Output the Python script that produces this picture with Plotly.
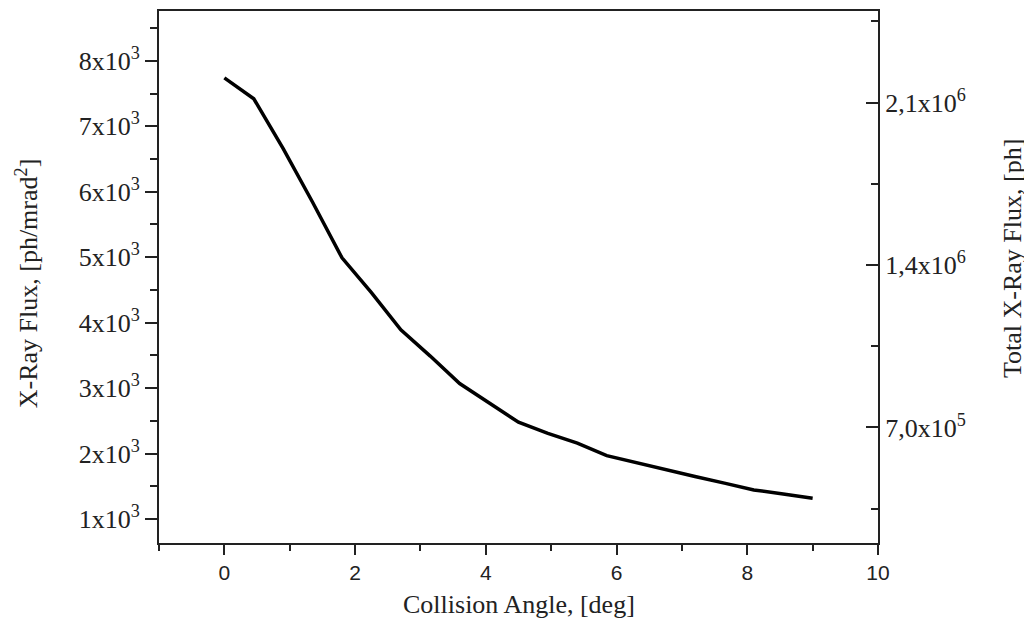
import plotly.graph_objects as go

# collision angle [deg] vs X-ray flux [ph/mrad^2]
angle = [0, 0.45, 0.9, 1.35, 1.8, 2.25, 2.7, 3.15, 3.6, 4.05, 4.5,
         4.95, 5.4, 5.85, 6.3, 6.75, 7.2, 7.65, 8.1, 8.55, 9.0]
flux = [7740, 7420, 6660, 5840, 4990, 4460, 3890, 3490, 3070, 2780, 2480,
        2310, 2160, 1970, 1860, 1755, 1650, 1550, 1445, 1385, 1320]

left_vals = [1000, 2000, 3000, 4000, 5000, 6000, 7000, 8000]
left_text = [f"{v // 1000}x10<sup>3</sup>" for v in left_vals]
left_minor = [1500, 2500, 3500, 4500, 5500, 6500, 7500, 8500]

right_vals = [7.0e5, 1.4e6, 2.1e6]
right_text = ["7,0x10<sup>5</sup>", "1,4x10<sup>6</sup>", "2,1x10<sup>6</sup>"]
right_minor = [3.5e5, 1.05e6, 1.75e6, 2.45e6]

serif = "Liberation Serif"
sans = "Liberation Sans"
ink = "#222"

fig = go.Figure()
fig.add_trace(go.Scatter(x=angle, y=flux, mode="lines",
                         line=dict(color="black", width=3.5), showlegend=False))
# empty trace so the right axis gets drawn
fig.add_trace(go.Scatter(x=[], y=[], yaxis="y2", showlegend=False))

# the page body adds 8px, so margins are shifted by that
fig.update_layout(
    width=1032, height=628,
    margin=dict(l=151, r=162, t=1, b=93),
    plot_bgcolor="white", paper_bgcolor="white",
    xaxis=dict(range=[-1, 10], tickvals=[0, 2, 4, 6, 8, 10],
               ticks="outside", ticklen=10, tickwidth=2, tickcolor=ink,
               minor=dict(tickvals=[-1, 1, 3, 5, 7, 9], ticks="outside",
                          ticklen=6, tickwidth=2, tickcolor=ink),
               showline=True, linecolor=ink, linewidth=2, mirror=True,
               showgrid=False, zeroline=False,
               tickfont=dict(family=sans, size=21, color=ink)),
    yaxis=dict(range=[635, 8761], tickvals=left_vals, ticktext=left_text,
               ticks="outside", ticklen=12, tickwidth=2, tickcolor=ink,
               minor=dict(tickvals=left_minor, ticks="outside",
                          ticklen=7, tickwidth=2, tickcolor=ink),
               showline=True, linecolor=ink, linewidth=2,
               showgrid=False, zeroline=False,
               tickfont=dict(family=serif, size=26, color=ink)),
    yaxis2=dict(range=[2.018e5, 2.495e6], overlaying="y", side="right",
                tickvals=right_vals, ticktext=right_text,
                ticks="inside", ticklen=12, tickwidth=2, tickcolor=ink,
                minor=dict(tickvals=right_minor, ticks="inside",
                           ticklen=7, tickwidth=2, tickcolor=ink),
                showline=True, linecolor=ink, linewidth=2,
                showgrid=False, zeroline=False,
                tickfont=dict(family=serif, size=26, color=ink)),
)

# axis titles placed as annotations
fig.add_annotation(text="Collision Angle, [deg]", xref="paper", yref="paper",
                   x=0.5, y=-0.116, yanchor="middle", showarrow=False,
                   font=dict(family=serif, size=26, color=ink))
fig.add_annotation(text="X-Ray Flux, [ph/mrad<sup>2</sup>]", xref="paper", yref="paper",
                   x=-0.183, y=0.489, xanchor="center", textangle=-90, showarrow=False,
                   font=dict(family=serif, size=26, color=ink))
fig.add_annotation(text="Total X-Ray Flux, [ph]", xref="paper", yref="paper",
                   x=1.188, y=0.534, xanchor="center", textangle=-90, showarrow=False,
                   font=dict(family=serif, size=26, color=ink))

fig.write_html("out.html")
